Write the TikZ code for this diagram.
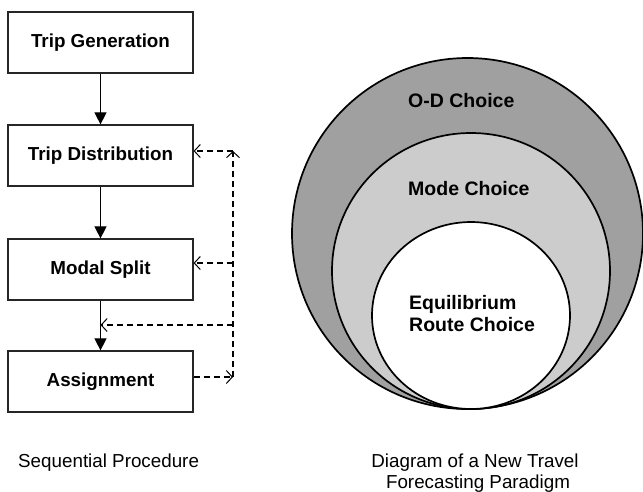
\documentclass[tikz,border=0pt]{standalone}
\usepackage{fontspec}
\setmainfont{Liberation Sans}
\usetikzlibrary{arrows.meta}
\definecolor{outergray}{RGB}{160,160,160}
\definecolor{midgray}{RGB}{204,204,204}
\begin{document}
\begin{tikzpicture}[x=1pt,y=-1pt,
  stepbox/.style={draw=black!85, line width=1.2pt, fill=white, minimum width=185pt, minimum height=61pt, inner sep=0pt, font=\bfseries\fontsize{18.8}{22}\selectfont},
  flow/.style={line width=1.1pt, -{Triangle[width=12pt,length=12pt]}},
  back/.style={line width=1.1pt, dash pattern=on 6pt off 4pt, -{Straight Barb[length=6pt,width=13pt,line width=1pt]}},
  ring/.style={draw=black, line width=1.7pt},
  lbl/.style={anchor=base west, inner sep=0pt, font=\bfseries\fontsize{19.5}{22}\selectfont},
  captext/.style={anchor=base, inner sep=0pt, font=\fontsize{18.8}{21}\selectfont}]
\useasboundingbox (0,0) rectangle (643,491);
% left: sequential procedure
\node[stepbox] (tg) at (100.5,42.5) {Trip Generation};
\node[stepbox] (td) at (100.5,155.5) {Trip Distribution};
\node[stepbox] (ms) at (100.5,269.5) {Modal Split};
\node[stepbox] (as) at (100.5,381.5) {Assignment};
\draw[flow] (tg) -- (td);
\draw[flow] (td) -- (ms);
\draw[flow] (ms) -- (as);
\coordinate (c1) at (233,151);
\coordinate (c2) at (233,263);
\coordinate (c3) at (233,325);
\coordinate (c4) at (233,377);
\coordinate (p) at (ms.south |- c3);
\draw[back] (as.east |- c4) -- (c4);
\draw[back] (c4) -- (c1);
\draw[back] (c1) -- (td.east |- c1);
\draw[back] (c2) -- (ms.east |- c2);
\draw[back] (c3) -- (p);
\node[captext, anchor=base west] (cap1) at (18,467) {Sequential Procedure};
% right: nested circles
\draw[ring, fill=outergray] (467.5,233.5) circle[radius=175.5];
\draw[ring, fill=midgray] (471,271) ellipse[x radius=139, y radius=138];
\draw[ring, fill=white] (471,315.5) ellipse[x radius=99, y radius=93.5];
\node[lbl] (od) at (408,107) {O-D Choice};
\node[lbl] (mc) at (408,195) {Mode Choice};
\node[lbl] (eq) at (409,309) {Equilibrium};
\node[lbl] (rc) at (409,331) {Route Choice};
\node[captext] (cap2) at (475,467) {Diagram of a New Travel};
\node[captext] (cap3) at (478,488) {Forecasting Paradigm};
\end{tikzpicture}
\end{document}
